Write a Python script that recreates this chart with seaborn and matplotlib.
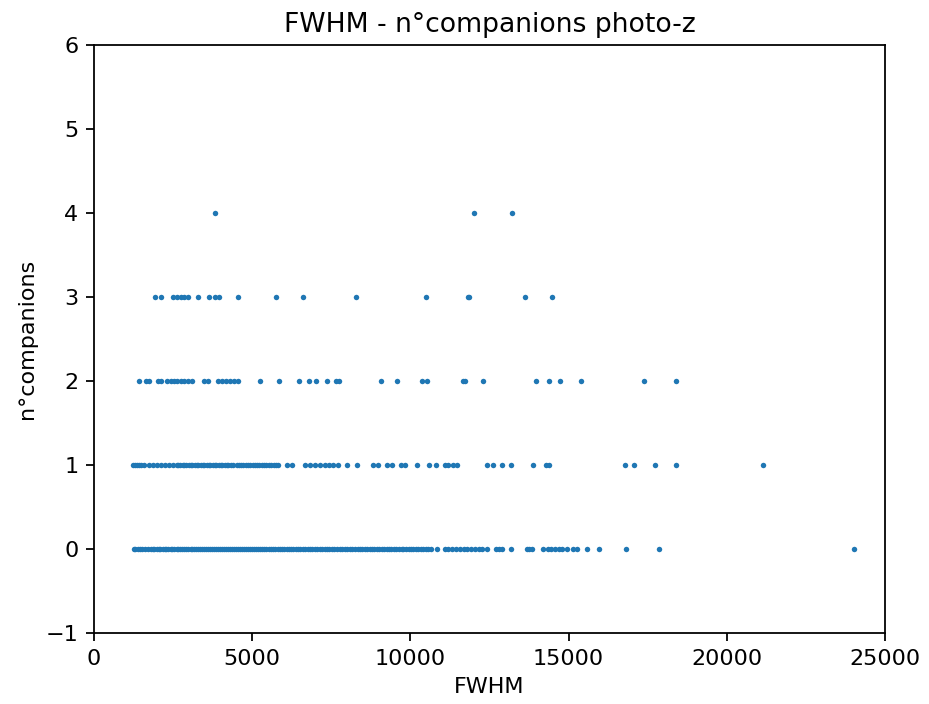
import matplotlib
matplotlib.use("Agg")
import matplotlib.pyplot as plt
import seaborn as sns
import pandas as pd

fwhm_0 = [1250, 1310, 1380, 1450, 1530, 1600,
          1720, 1790, 1850, 1910, 1980, 2040, 2100, 2170, 2230, 2290, 2350, 2420, 2480, 2540,
          2610, 2670, 2730, 2790, 2860, 2920, 2980, 3050, 3110, 3170, 3230, 3300, 3360, 3420,
          3490, 3550, 3610, 3680, 3740, 3800, 3860, 3930, 3990, 4050, 4120, 4180, 4240, 4310,
          4370, 4430, 4500, 4560, 4620, 4690, 4750, 4810, 4880, 4940, 5000, 5070, 5130, 5190,
          5260, 5320, 5380, 5450, 5520, 5590, 5650, 5720, 5800, 5870, 5940, 6010, 6090, 6160,
          6230, 6300, 6380, 6450, 6520, 6600, 6680, 6750, 6830, 6900, 6980, 7060, 7130, 7210,
          7290, 7360, 7440, 7520, 7600, 7680, 7760, 7850, 7930, 8010, 8100, 8170, 8250, 8330,
          8400, 8480, 8550, 8630, 8710, 8790, 8860, 8940, 9020, 9090, 9170, 9250, 9330, 9400,
          9480, 9560, 9640, 9720, 9780, 9860, 9940, 10010, 10090, 10170, 10250, 10330, 10410,
          10490, 10570, 10650, 10830, 11090, 11200, 11330, 11450, 11560, 11680, 11800, 11920,
          12040, 12160, 12250, 12410, 12720, 12800, 12880, 13180, 13670, 13750, 13830, 14200,
          14340, 14450, 14560, 14700, 14800, 14940, 15130, 15250, 15570, 15970, 16800, 17850,
          24020]
fwhm_1 = [1240, 1300, 1350, 1420, 1480, 1580, 1750, 1870, 1980, 2110, 2240, 2380, 2490,
          2610, 2670, 2730, 2800, 2860, 2920, 2990, 3050, 3110, 3180, 3240, 3300, 3370, 3430,
          3490, 3560, 3620, 3680, 3750, 3810, 3870, 3940, 4000, 4060, 4130, 4190, 4250, 4320,
          4390, 4510, 4580, 4650, 4720, 4800, 4870, 4940, 5010, 5090, 5160, 5230, 5310, 5380,
          5450, 5530, 5600, 5680, 5760, 5830, 6090, 6250, 6670, 6830, 6980, 7140, 7300, 7440,
          7560, 7720, 7990, 8300, 8830, 8980, 9270, 9410, 9690, 9830, 10200, 10600, 10810,
          11090, 11200, 11340, 11460, 12410, 12620, 12910, 13170, 13860, 14280, 14390, 16780,
          17060, 17730, 18390, 21140]
fwhm_2 = [1420, 1640, 1750, 2030, 2120, 2320, 2420, 2530, 2630, 2740, 2840, 2970, 3100,
          3490, 3590, 3930, 4040, 4160, 4300, 4420, 4560, 5250, 5860, 6490, 6800, 7020, 7350,
          7640, 7740, 9060, 9590, 10380, 10540, 11650, 11720, 12300, 13970, 14380, 14730,
          15380, 17390, 18390]
fwhm_3 = [1930, 2120, 2510, 2630, 2740, 2850, 2980, 3280, 3630, 3820, 3950, 4550, 5750,
          6610, 8270, 10490, 11810, 11850, 13620, 14460]
fwhm_4 = [3840, 12010, 13220]

groups = [fwhm_0, fwhm_1, fwhm_2, fwhm_3, fwhm_4]
rows = []
for n, vals in enumerate(groups):
    for v in vals:
        rows.append({"FWHM": v, "ncomp": n})
df = pd.DataFrame(rows)

DPI = 160
fig = plt.figure(figsize=(929/DPI, 704/DPI), dpi=DPI)
ax = fig.add_axes([94/929, 1-633/704, (885-94)/929, (633-45)/704])
sns.scatterplot(data=df, x="FWHM", y="ncomp", ax=ax, s=6, linewidth=0,
                color="#1f77b4", legend=False)
ax.set_xlim(0, 25000)
ax.set_ylim(-1, 6)
ax.set_xticks([0, 5000, 10000, 15000, 20000, 25000])
ax.set_yticks(list(range(-1, 7)))
ax.set_xlabel("FWHM")
ax.set_ylabel("n°companions")
ax.set_title("FWHM - n°companions photo-z")
fig.savefig("out.png", dpi=DPI)
